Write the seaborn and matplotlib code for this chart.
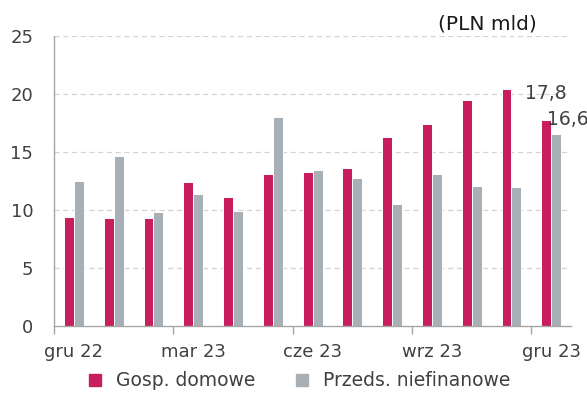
import matplotlib
matplotlib.use("Agg")
import matplotlib.pyplot as plt
from matplotlib.lines import Line2D
import seaborn as sns
import pandas as pd

# Monthly values, PLN bn
months = ["gru 22", "sty 23", "lut 23", "mar 23", "kwi 23", "maj 23", "cze 23",
          "lip 23", "sie 23", "wrz 23", "paź 23", "lis 23", "gru 23"]
gosp_domowe = [9.4, 9.3, 9.3, 12.4, 11.1, 13.1, 13.3, 13.6, 16.3, 17.4, 19.5, 20.5, 17.8]
przeds_niefin = [12.5, 14.7, 9.8, 11.4, 9.9, 18.0, 13.5, 12.8, 10.5, 13.1, 12.1, 12.0, 16.6]
series_names = ["Gosp. domowe", "Przeds. niefinanowe"]
shown_labels = ["gru 22", "mar 23", "cze 23", "wrz 23", "gru 23"]
y_ticks = [0, 5, 10, 15, 20, 25]

c_red = "#C81E5D"
c_grey = "#A8B0B7"
c_text = "#404040"

df = pd.DataFrame({
    "month": months * 2,
    "value": gosp_domowe + przeds_niefin,
    "series": [series_names[0]] * len(months) + [series_names[1]] * len(months),
})

sns.set_theme(style="white")
plt.rcParams["font.family"] = ["DejaVu Sans"]

fig = plt.figure(figsize=(5.87, 3.96), dpi=100)
ax = fig.add_axes([0.092, 0.177, 0.881, 0.731])

sns.barplot(data=df, x="month", y="value", hue="series", order=months,
            hue_order=series_names, palette=[c_red, c_grey], saturation=1,
            width=0.5, edgecolor="white", linewidth=0.7, legend=False, ax=ax)

ax.set_xlim(-0.5, len(months) - 0.5)
ax.set_ylim(0, 25)
ax.set_xlabel("")
ax.set_ylabel("")

# horizontal dashed grid
for v in y_ticks[1:]:
    ax.axhline(v, color="#D3D3D3", linestyle=(0, (4, 3)), linewidth=0.9, zorder=0)
ax.set_axisbelow(True)

for s in ["top", "right"]:
    ax.spines[s].set_visible(False)
for s in ["left", "bottom"]:
    ax.spines[s].set_color("#A6A6A6")
    ax.spines[s].set_linewidth(1.0)

# labels every third month, tick marks between quarters
label_pos = [months.index(m) for m in shown_labels]
ax.set_xticks(label_pos, shown_labels)
ax.set_xticks([p - 0.5 for p in label_pos], minor=True)
ax.tick_params(axis="x", which="major", bottom=True, length=0, pad=12,
               labelsize=13, labelcolor=c_text)
ax.tick_params(axis="x", which="minor", bottom=True, length=6, width=1.0,
               color="#A6A6A6", direction="out")
ax.set_yticks(y_ticks)
ax.tick_params(axis="y", which="major", length=0, pad=15, labelsize=13, labelcolor=c_text)

# value labels on the last month
bar_r = ax.containers[0][-1]
bar_g = ax.containers[1][-1]
ax.annotate(f"{gosp_domowe[-1]:.1f}".replace(".", ","),
            (bar_r.get_x() + bar_r.get_width() / 2, bar_r.get_height()),
            xytext=(0, 12), textcoords="offset points", ha="center", va="bottom",
            fontsize=13.5, color=c_text)
ax.annotate(f"{przeds_niefin[-1]:.1f}".replace(".", ","),
            (bar_g.get_x() + bar_g.get_width() / 2, bar_g.get_height()),
            xytext=(8, 3.5), textcoords="offset points", ha="center", va="bottom",
            fontsize=13.5, color=c_text, annotation_clip=False)

fig.text(487 / 587, 1 - 24 / 396, "(PLN mld)", ha="center", va="center",
         fontsize=14.5, color="#1A1A1A")

handles = [Line2D([], [], marker="s", linestyle="none", markersize=9,
                  markerfacecolor=c, markeredgecolor=c) for c in (c_red, c_grey)]
fig.legend(handles, series_names, loc="center", bbox_to_anchor=(298 / 587, 1 - 381 / 396),
           ncol=2, frameon=False, fontsize=13.5, labelcolor=c_text,
           handletextpad=0.6, columnspacing=2.0, handlelength=1.0)

fig.savefig("out.png", dpi=100)
